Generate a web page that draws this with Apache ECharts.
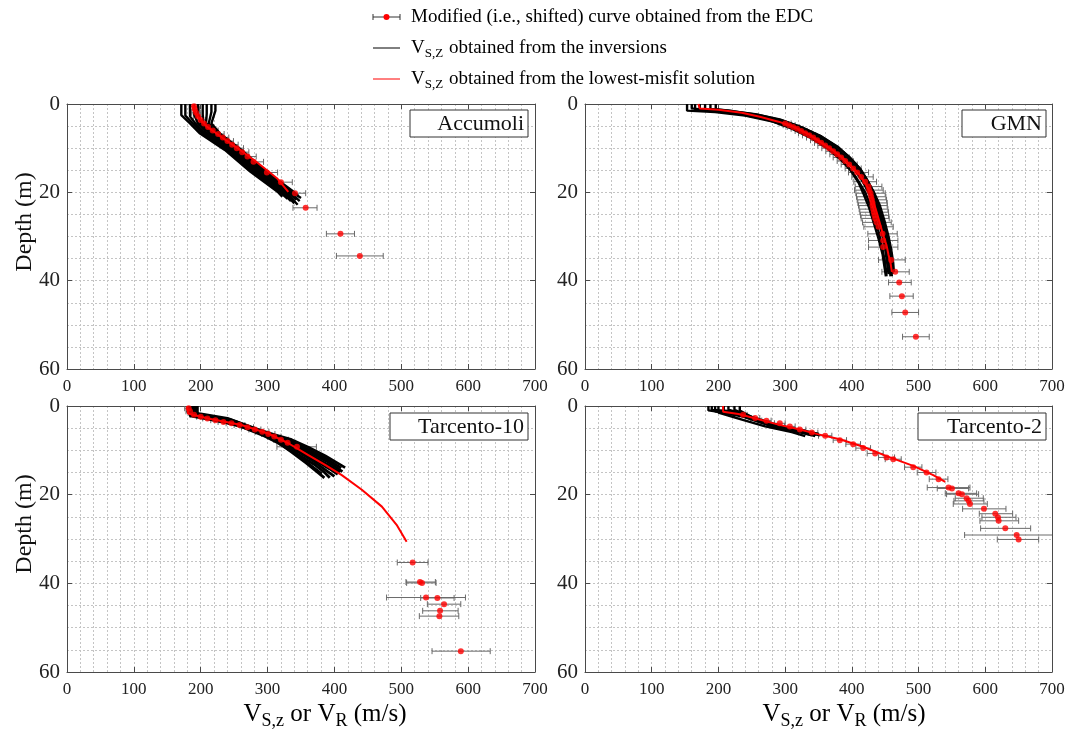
<!DOCTYPE html>
<html><head><meta charset="utf-8">
<script src="https://cdn.jsdelivr.net/npm/echarts@6/dist/echarts.min.js"></script>
<style>html,body{margin:0;padding:0;background:#fff}#c{width:1075px;height:740px}</style>
</head><body><div id="c"></div>
<script>
// ---------- tick labels / categories ----------
const panelNames = ['Accumoli', 'GMN', 'Tarcento-10', 'Tarcento-2'];
const velocityTicks = [0, 100, 200, 300, 400, 500, 600, 700];
const depthTicks = [0, 20, 40, 60];

// ---------- Accumoli ----------
const accEdcV     = [190,191,193,196,200,205,211,218,226,233,240,247,254,262,270,279,299,320,341,357,409,438];
const accEdcDepth = [0.5,1.2,2.0,2.8,3.6,4.4,5.2,6.0,6.8,7.6,8.4,9.2,10.0,10.9,11.9,13.1,15.5,17.7,20.2,23.5,29.4,34.4];
const accEdcLow   = [183,184,186,189,193,197,203,210,217,224,231,238,245,252,258,266,284,304,326,338,388,403];
const accEdcHigh  = [197,198,200,203,207,213,219,226,235,242,249,256,264,272,283,294,315,337,357,374,430,473];
const accBest = [[189,0],[190,1.5],[196,2.9],[209,5.1],[234,7.8],[259,10.4],[286,13.4],[314,16.8],[331,19.9]];
const accInv1 = [[171,0],[171,2.5],[184,4.4],[199,6.7],[236,10.4],[274,15.3],[316,20],[322,21]];
const accInv2 = [[177,0],[177,2.6],[188,4.4],[203,6.7],[239,10.4],[277,15.3],[319,20],[330,21.5]];
const accInv3 = [[184,0],[184,2.8],[192,4.4],[206,6.7],[242,10.4],[280,15.3],[322,20],[335,22]];
const accInv4 = [[190,0],[190,2.3],[196,4.4],[210,6.7],[245,10.4],[283,15.3],[325,20],[340,22.5]];
const accInv5 = [[196,0],[196,2.0],[200,4.4],[214,6.7],[248,10.4],[286,15.3],[328,20],[345,22.8]];
const accInv6 = [[203,0],[203,2.4],[204,4.4],[218,6.7],[252,10.4],[289,15.3],[331,20],[343,21.7]];
const accInv7 = [[209,0],[209,2.2],[208,4.4],[222,6.7],[255,10.4],[292,15.3],[334,20],[348,22]];
const accInv8 = [[216,0],[216,1.8],[212,4.4],[225,6.7],[258,10.4],[295,15.3],[337,20],[350,21.3]];
const accInv9 = [[222,0],[222,1.5],[216,4.4],[229,6.7],[261,10.4],[298,15.3],[340,20],[346,20.8]];

// ---------- GMN ----------
const gmnEdcV     = [300,306,312,318,324,330,336,342,348,354,360,366,372,378,384,390,396,402,408,414,420,425,426,428,429,430,431,431,432,433,434,435,437,440,446,447,447,459,465,471,475,480,496];
const gmnEdcDepth = [4.4,4.8,5.2,5.6,6.1,6.6,7.1,7.6,8.2,8.8,9.4,10.0,10.7,11.4,12.1,12.9,13.7,14.6,15.5,16.5,17.6,18.7,19.5,20.2,21.0,21.7,22.4,23.0,23.8,24.5,25.2,25.9,26.8,27.8,29.4,30.9,32.4,35.3,38.0,40.4,43.5,47.2,52.7];
const gmnEdcLow   = [291,297,303,309,315,320,326,332,338,344,349,355,361,367,372,378,384,390,395,400,403,405,404,406,407,408,409,410,411,412,413,414,416,418,424,425,425,440,445,455,457,460,476];
const gmnEdcHigh  = [309,315,321,327,333,340,346,352,358,364,371,377,383,389,396,402,408,414,425,432,437,445,447,450,451,452,453,453,454,455,455,456,459,462,468,469,469,480,486,489,492,500,516];
const gmnBest = [[170,0],[172,1],[200,1.3],[235,2],[262,2.9],[290,4],[312,5.1],[335,6.8],[352,8.5],[370,10.3],[387,12.3],[400,14.2],[412,16.1],[420,18],[427,19.8],[432,22],[437,24.4],[442,27],[447,29.7],[452,32],[455,34.2],[458,36],[460,38]];
const gmnInv1 = [[153,0],[153,1.5],[195,1.8],[240,2.6],[280,3.9],[310,5.6],[340,7.8],[365,10.2],[385,12.8],[400,15.2],[410,17.5],[420,20],[428,23],[435,26],[441,29.5],[446,33],[450,36],[452,39]];
const gmnInv2 = [[165,0],[165,1.2],[200,1.6],[245,2.5],[285,3.8],[315,5.5],[345,7.6],[370,10],[390,12.6],[405,15],[416,17.5],[425,20],[433,23],[440,26.5],[446,30],[450,33],[453,36],[455,38.5]];
const gmnInv3 = [[180,0],[180,1.3],[210,1.6],[250,2.4],[290,3.7],[320,5.4],[350,7.5],[375,9.9],[395,12.5],[410,15],[420,17.5],[430,20],[438,23],[445,26.5],[451,30],[455,33],[458,36],[460,39]];
const gmnInv4 = [[196,0],[196,1.2],[220,1.6],[260,2.5],[295,3.7],[325,5.3],[355,7.4],[380,9.8],[398,12.3],[413,14.8],[424,17.5],[433,20],[442,23],[449,26.5],[455,30],[459,33],[462,36],[463,38]];
const gmnInv5 = [[160,0],[160,1],[190,1.5],[230,2.2],[270,3.4],[305,5.1],[338,7.4],[362,9.8],[383,12.5],[398,15],[410,17.8],[418,20.5],[426,23.5],[433,27],[440,30.5],[446,34],[449,37],[451,39]];
const gmnInv6 = [[172,0],[172,1.4],[205,1.7],[248,2.6],[288,3.9],[318,5.6],[348,7.8],[373,10.2],[393,12.8],[408,15.3],[418,17.8],[428,20.3],[436,23.3],[443,26.8],[449,30.3],[453,33.5],[456,36.5],[458,39]];
const gmnInv7 = [[188,0],[188,1.1],[215,1.5],[255,2.3],[292,3.5],[322,5.1],[352,7.2],[377,9.6],[397,12.1],[412,14.6],[423,17.2],[432,19.8],[440,22.8],[447,26.2],[453,29.8],[457,33],[460,36],[461,38.5]];

// ---------- Tarcento-10 ----------
const t10EdcV     = [182,184,190,200,210,222,234,246,258,270,281,292,301,310,320,330,344,517,528,531,537,554,564,558,557,589];
const t10EdcDepth = [0.5,1.2,2.0,2.4,2.8,3.2,3.6,3.9,4.3,4.8,5.3,5.8,6.3,6.9,7.6,8.3,9.2,35.3,39.7,39.9,43.2,43.3,44.7,46.2,47.4,55.3];
const t10EdcLow   = [176,178,184,194,203,215,226,238,250,261,272,282,291,300,309,318,314,494,507,508,478,529,539,532,527,546];
const t10EdcHigh  = [188,190,196,206,217,229,242,254,266,279,290,302,311,320,331,342,373,540,551,552,596,579,589,585,586,633];
const t10Best = [[180,0],[181,1.7],[211,2.8],[261,4.3],[301,6.2],[331,8.4],[361,11.1],[386,13.3],[411,15.6],[441,18.9],[471,22.7],[493,26.8],[508,30.6]];
const t10Inv1 = [[181,0],[181,1.5],[200,1.8],[240,2.8],[286,5.3],[311,6.5],[336,7.6],[361,9.3],[386,11.2],[406,13.0],[416,13.9]];
const t10Inv2 = [[183,0],[183,1.7],[205,2.1],[245,3.1],[288,5.5],[313,6.9],[338,8.2],[363,10.0],[388,11.9],[410,14.0]];
const t10Inv3 = [[186,0],[186,1.8],[210,2.4],[250,3.5],[290,5.8],[315,7.3],[340,8.8],[365,10.6],[390,12.6],[412,14.8]];
const t10Inv4 = [[188,0],[188,2],[213,2.6],[253,3.8],[292,6.0],[317,7.7],[342,9.3],[366,11.2],[391,13.3],[408,15.0]];
const t10Inv5 = [[190,0],[190,2],[215,2.8],[255,4],[293,6.2],[318,8.0],[343,9.8],[368,11.9],[393,14.2],[405,15.4]];
const t10Inv6 = [[192,0],[192,1.6],[218,3.0],[258,4.3],[295,6.5],[320,8.4],[345,10.3],[369,12.5],[390,14.8],[400,15.9]];
const t10Inv7 = [[195,0],[195,1.8],[220,3.1],[260,4.6],[296,6.8],[322,8.8],[346,11.0],[370,13.2],[386,15.1],[393,16.2]];
const t10Inv8 = [[184,0],[184,2.2],[205,2.8],[245,3.9],[288,6.1],[313,8.0],[336,10.4],[358,12.9],[376,15.1],[385,16.2]];
const t10Inv9 = [[187,0],[187,1.9],[212,2.7],[252,3.9],[291,6.3],[316,8.2],[340,10.6],[362,13.1],[381,15.3]];

// ---------- Tarcento-2 ----------
const t2EdcV     = [237,255,272,292,307,322,340,360,382,402,417,435,452,462,492,512,530,545,550,560,565,572,575,577,598,615,619,620,630,647,650];
const t2EdcDepth = [2.0,2.7,3.3,3.9,4.6,5.3,6.0,6.7,7.7,8.6,9.5,10.7,11.6,12.0,13.8,15.0,16.5,18.4,18.6,19.7,19.9,20.8,21.4,22.1,23.2,24.3,25.1,25.9,27.6,29.1,30.1];
const t2EdcLow   = [231,248,265,284,299,313,331,350,372,391,406,423,440,450,479,498,516,513,528,540,542,555,553,552,566,591,595,592,593,569,618];
const t2EdcHigh  = [243,262,279,300,315,331,349,370,392,413,428,447,464,474,505,526,544,577,575,587,590,597,598,603,631,641,646,650,668,725,680];
const t2Best = [[207,0],[207,1.3],[230,1.8],[260,3],[290,4.2],[322,5.3],[350,6.4],[382,7.5],[417,9.2],[452,11.3],[492,13.5],[522,15.6],[540,17.1]];
const t2Inv1 = [[185,0],[185,1],[230,2.0],[280,4.5],[320,5.8],[340,6.6]];
const t2Inv2 = [[195,0],[195,1.2],[235,2.3],[285,4.8],[325,6.0],[345,6.8]];
const t2Inv3 = [[215,0],[215,0.8],[240,2.0],[290,4.4],[330,5.6],[350,6.3]];
const t2Inv4 = [[232,0],[232,1],[250,2.5],[300,5.0],[335,6.2]];
const t2Inv5 = [[200,0],[200,1.5],[225,2.6],[270,4.6],[310,5.9],[330,6.8]];
const t2Inv6 = [[190,0],[190,0.9],[222,1.2],[238,2.2],[288,4.6],[328,5.9],[346,6.5]];
const t2Inv7 = [[208,0],[208,1.1],[226,1.4],[244,2.4],[295,4.8],[333,6.0],[352,6.6]];
const t2Inv8 = [[224,0],[224,0.9],[236,1.6],[256,2.9],[304,5.2],[340,6.4]];

// ---------- assembly ----------
const panels = [
  {v: accEdcV, d: accEdcDepth, lo: accEdcLow, hi: accEdcHigh, best: accBest, inv: [accInv1,accInv2,accInv3,accInv4,accInv5,accInv6,accInv7,accInv8,accInv9]},
  {v: gmnEdcV, d: gmnEdcDepth, lo: gmnEdcLow, hi: gmnEdcHigh, best: gmnBest, inv: [gmnInv1,gmnInv2,gmnInv3,gmnInv4,gmnInv5,gmnInv6,gmnInv7]},
  {v: t10EdcV, d: t10EdcDepth, lo: t10EdcLow, hi: t10EdcHigh, best: t10Best, inv: [t10Inv1,t10Inv2,t10Inv3,t10Inv4,t10Inv5,t10Inv6,t10Inv7,t10Inv8,t10Inv9]},
  {v: t2EdcV, d: t2EdcDepth, lo: t2EdcLow, hi: t2EdcHigh, best: t2Best, inv: [t2Inv1,t2Inv2,t2Inv3,t2Inv4,t2Inv5,t2Inv6,t2Inv7,t2Inv8]}
];

const FONT = '"Liberation Serif", "Times New Roman", serif';
const gridBoxes = [
  {left: 67, top: 104, width: 468, height: 265},
  {left: 585, top: 104, width: 467, height: 265},
  {left: 67, top: 406, width: 468, height: 266},
  {left: 585, top: 406, width: 467, height: 266}
];
const AXC = '#4a4a4a';
const gridLine = {show: true, lineStyle: {color: '#c4c4c4', width: 1, type: [2, 2]}};

const grid = [], xAxis = [], yAxis = [], series = [];
gridBoxes.forEach((g, i) => {
  grid.push(Object.assign({containLabel: false}, g));
  const vmin = velocityTicks[0], vmax = velocityTicks[velocityTicks.length - 1];
  const dmin = depthTicks[0], dmax = depthTicks[depthTicks.length - 1];
  xAxis.push({
    gridIndex: i, type: 'value', min: vmin, max: vmax, interval: 100, position: 'bottom',
    axisLine: {show: true, onZero: false, lineStyle: {color: AXC, width: 1}},
    axisTick: {show: true, inside: true, length: 5, lineStyle: {color: AXC}},
    axisLabel: {show: true, color: '#222', fontFamily: FONT, fontSize: 17, margin: 9},
    splitLine: gridLine,
    minorTick: {show: false, splitNumber: 5},
    minorSplitLine: gridLine
  });
  xAxis.push({
    gridIndex: i, type: 'value', min: vmin, max: vmax, interval: 100, position: 'top',
    axisLine: {show: true, onZero: false, lineStyle: {color: AXC, width: 1}},
    axisTick: {show: true, inside: true, length: 5, lineStyle: {color: AXC}},
    axisLabel: {show: false}, splitLine: {show: false}
  });
  yAxis.push({
    gridIndex: i, type: 'value', min: dmin, max: dmax, interval: 20, inverse: true, position: 'left',
    axisLine: {show: true, onZero: false, lineStyle: {color: AXC, width: 1}},
    axisTick: {show: true, inside: true, length: 5, lineStyle: {color: AXC}},
    axisLabel: {show: true, color: '#222', fontFamily: FONT, fontSize: 21, margin: 7},
    splitLine: gridLine,
    minorTick: {show: false, splitNumber: 4},
    minorSplitLine: gridLine
  });
  yAxis.push({
    gridIndex: i, type: 'value', min: dmin, max: dmax, interval: 20, inverse: true, position: 'right',
    axisLine: {show: true, onZero: false, lineStyle: {color: AXC, width: 1}},
    axisTick: {show: true, inside: true, length: 5, lineStyle: {color: AXC}},
    axisLabel: {show: false}, splitLine: {show: false}
  });

  const p = panels[i];
  const xi = 2 * i, yi = 2 * i;
  series.push({
    type: 'custom', xAxisIndex: xi, yAxisIndex: yi, clip: true, silent: true, z: 2,
    data: p.d.map((dd, k) => [p.lo[k], p.hi[k], dd]),
    encode: {x: [0, 1], y: 2},
    renderItem: function (params, api) {
      const a = api.coord([api.value(0), api.value(2)]);
      const b = api.coord([api.value(1), api.value(2)]);
      const h = 3, st = {stroke: '#6a6a6a', lineWidth: 1};
      return {type: 'group', children: [
        {type: 'line', shape: {x1: a[0], y1: a[1], x2: b[0], y2: b[1]}, style: st},
        {type: 'line', shape: {x1: a[0], y1: a[1] - h, x2: a[0], y2: a[1] + h}, style: st},
        {type: 'line', shape: {x1: b[0], y1: b[1] - h, x2: b[0], y2: b[1] + h}, style: st}
      ]};
    }
  });
  p.inv.forEach(prof => {
    series.push({
      type: 'line', xAxisIndex: xi, yAxisIndex: yi, data: prof, showSymbol: false, symbol: 'none',
      silent: true, z: 3, lineStyle: {color: '#000', width: i === 2 ? 2.8 : 2.4}, animation: false
    });
  });
  series.push({
    type: 'line', xAxisIndex: xi, yAxisIndex: yi, data: p.best, showSymbol: false, symbol: 'none',
    silent: true, z: 4, lineStyle: {color: '#ff0000', width: 2}, animation: false
  });
  series.push({
    type: 'scatter', xAxisIndex: xi, yAxisIndex: yi, data: p.v.map((vv, k) => [vv, p.d[k]]),
    symbol: 'circle', symbolSize: 6, itemStyle: {color: '#ff0000'}, z: 5, silent: true, animation: false
  });
});

// ---------- graphics: legend, panel labels, axis titles ----------
const graphic = [];
const lgX0 = 373, lgX1 = 400, lgTx = 411;
const rows = [17, 48, 79];
graphic.push({type: 'line', shape: {x1: lgX0, y1: rows[0], x2: lgX1, y2: rows[0]}, style: {stroke: '#333', lineWidth: 1}});
graphic.push({type: 'line', shape: {x1: lgX0, y1: rows[0] - 3, x2: lgX0, y2: rows[0] + 3}, style: {stroke: '#333', lineWidth: 1}});
graphic.push({type: 'line', shape: {x1: lgX1, y1: rows[0] - 3, x2: lgX1, y2: rows[0] + 3}, style: {stroke: '#333', lineWidth: 1}});
graphic.push({type: 'circle', shape: {cx: (lgX0 + lgX1) / 2, cy: rows[0], r: 3}, style: {fill: '#ff0000'}});
graphic.push({type: 'line', shape: {x1: lgX0, y1: rows[1], x2: lgX1, y2: rows[1]}, style: {stroke: '#000', lineWidth: 1}});
graphic.push({type: 'line', shape: {x1: lgX0, y1: rows[2], x2: lgX1, y2: rows[2]}, style: {stroke: '#ff0000', lineWidth: 1}});
const legendRich = {
  m: {fontFamily: FONT, fontSize: 19, color: '#111'},
  s: {fontFamily: FONT, fontSize: 13, color: '#111', padding: [11, 1, 0, 0]}
};
const legendTexts = [
  '{m|Modified (i.e., shifted) curve obtained from the EDC}',
  '{m|V}{s|S,Z}{m| obtained from the inversions}',
  '{m|V}{s|S,Z}{m| obtained from the lowest-misfit solution}'
];
legendTexts.forEach((t, k) => {
  graphic.push({type: 'text', x: lgTx, y: rows[k], style: {text: t, rich: legendRich, verticalAlign: 'middle', align: 'left'}});
});
const labelBoxes = [
  {x: 410, y: 110, w: 118, h: 27},
  {x: 962, y: 110, w: 84, h: 27},
  {x: 390, y: 413, w: 138, h: 27},
  {x: 918, y: 413, w: 128, h: 27}
];
labelBoxes.forEach((b, k) => {
  graphic.push({type: 'rect', shape: {x: b.x, y: b.y, width: b.w, height: b.h}, style: {fill: '#fff', stroke: '#333', lineWidth: 1}, z: 10});
  graphic.push({type: 'text', x: b.x + b.w - 4, y: b.y + b.h / 2 + 1, z: 11,
    style: {text: panelNames[k], fontFamily: FONT, fontSize: 22, fill: '#111', align: 'right', verticalAlign: 'middle'}});
});
[222, 524].forEach(cy => {
  graphic.push({type: 'text', x: 25, y: cy, rotation: Math.PI / 2,
    style: {text: 'Depth (m)', fontFamily: FONT, fontSize: 24, fill: '#111', align: 'center', verticalAlign: 'middle'}});
});
const xtRich = {
  m: {fontFamily: FONT, fontSize: 25, color: '#111'},
  s: {fontFamily: FONT, fontSize: 18, color: '#111', padding: [15, 0, 0, 0]}
};
[325, 844].forEach(cx => {
  graphic.push({type: 'text', x: cx, y: 714, style: {text: '{m|V}{s|S,z}{m| or V}{s|R}{m| (m/s)}', rich: xtRich, align: 'center', verticalAlign: 'middle'}});
});

const chart = echarts.init(document.getElementById('c'), null, {renderer: 'canvas'});
chart.setOption({
  animation: false,
  backgroundColor: '#fff',
  grid, xAxis, yAxis, series, graphic
});
</script>
</body></html>
